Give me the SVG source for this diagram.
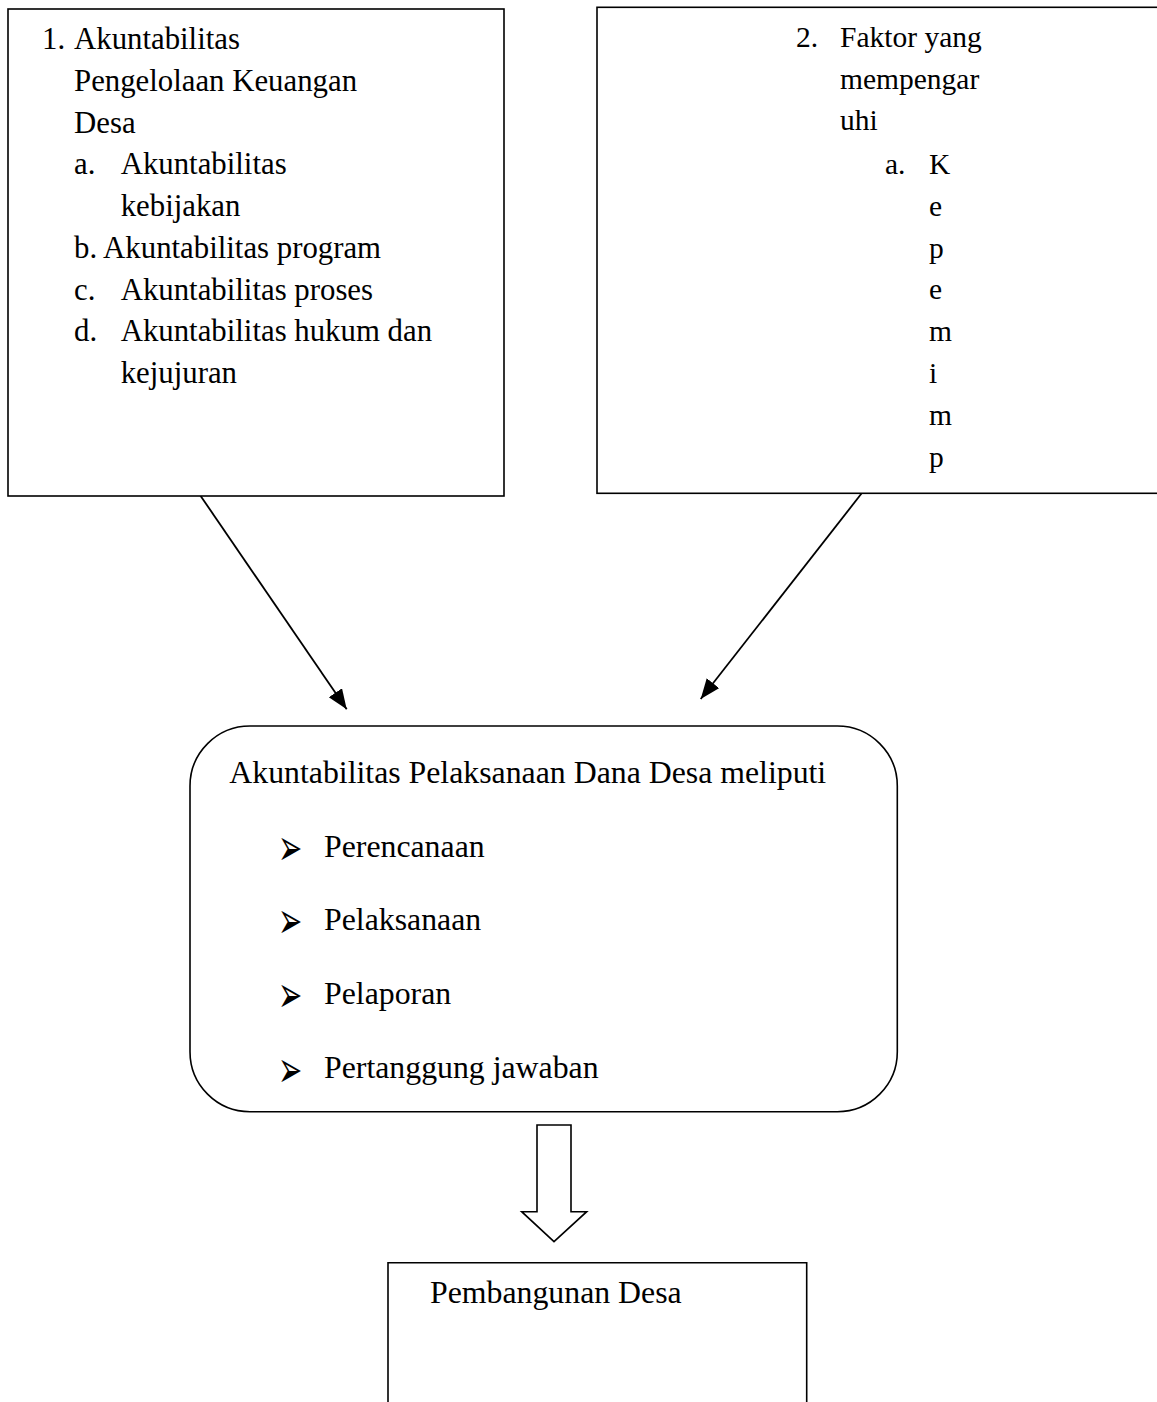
<svg xmlns="http://www.w3.org/2000/svg" width="1157" height="1402" viewBox="0 0 1157 1402">
<defs>
<style>
.t{font-family:"Liberation Serif","Times New Roman",serif;fill:#000}
.l{font-size:30.8px}
.r{font-size:29.5px}
.m{font-size:31.8px}
.box{fill:#fff;stroke:#000;stroke-width:1.6}
.con{stroke:#000;stroke-width:1.8;fill:none}
.bul{font-family:"DejaVu Sans",sans-serif;font-size:34px;fill:#000}
</style>
<marker id="ah" markerUnits="userSpaceOnUse" markerWidth="22" markerHeight="18" refX="20" refY="8" orient="auto">
<path d="M0,0 L20,8 L0,16 Z" fill="#000"/>
</marker>
</defs>
<rect width="1157" height="1402" fill="#fff"/>

<g id="connectors">
<line class="con" x1="200" y1="495" x2="346.7" y2="709.3" marker-end="url(#ah)"/>
<line class="con" x1="861.7" y1="493.3" x2="700.7" y2="699" marker-end="url(#ah)"/>
<polygon class="box" points="537,1125 571,1125 571,1211.7 586.7,1211.7 554,1241.7 521.7,1211.7 537,1211.7"/>
</g>

<g id="node-akuntabilitas">
<rect class="box" x="8" y="9" width="496" height="487"/>
<text class="t l" x="42" y="49.3">1.</text>
<text class="t l" x="74" y="49.3">Akuntabilitas</text>
<text class="t l" x="74" y="91">Pengelolaan Keuangan</text>
<text class="t l" x="74" y="132.7">Desa</text>
<text class="t l" x="74" y="174.4">a.</text>
<text class="t l" x="120.7" y="174.4">Akuntabilitas</text>
<text class="t l" x="120.7" y="216.1">kebijakan</text>
<text class="t l" x="74" y="257.8">b. Akuntabilitas program</text>
<text class="t l" x="74" y="299.5">c.</text>
<text class="t l" x="120.7" y="299.5">Akuntabilitas proses</text>
<text class="t l" x="74" y="341.2">d.</text>
<text class="t l" x="120.7" y="341.2">Akuntabilitas hukum dan</text>
<text class="t l" x="120.7" y="382.9">kejujuran</text>
</g>

<g id="node-faktor">
<rect class="box" x="597" y="7.3" width="570" height="486"/>
<text class="t r" x="796" y="46.7">2.</text>
<text class="t r" x="840" y="46.7">Faktor yang</text>
<text class="t r" x="840" y="88.5">mempengar</text>
<text class="t r" x="840" y="130.3">uhi</text>
<text class="t r" x="885" y="174">a.</text>
<text class="t r" x="929" y="174">K</text>
<text class="t r" x="929" y="215.8">e</text>
<text class="t r" x="929" y="257.6">p</text>
<text class="t r" x="929" y="299.4">e</text>
<text class="t r" x="929" y="341.2">m</text>
<text class="t r" x="929" y="383">i</text>
<text class="t r" x="929" y="424.8">m</text>
<text class="t r" x="929" y="466.6">p</text>
</g>

<g id="node-pelaksanaan">
<rect class="box" x="190" y="726" width="707.3" height="385.7" rx="60" ry="60"/>
<text class="t m" x="229.3" y="783.3">Akuntabilitas Pelaksanaan Dana Desa meliputi</text>
<text class="bul" transform="translate(278,865) scale(0.85,1.5)">➢</text>
<text class="t m" x="324" y="856.7">Perencanaan</text>
<text class="bul" transform="translate(278,938.3) scale(0.85,1.5)">➢</text>
<text class="t m" x="324" y="930">Pelaksanaan</text>
<text class="bul" transform="translate(278,1011.8) scale(0.85,1.5)">➢</text>
<text class="t m" x="324" y="1003.5">Pelaporan</text>
<text class="bul" transform="translate(278,1086.6) scale(0.85,1.5)">➢</text>
<text class="t m" x="324" y="1078.3">Pertanggung jawaban</text>
</g>

<g id="node-pembangunan">
<path class="box" d="M388,1410 L388,1262.7 L806.7,1262.7 L806.7,1410"/>
<text class="t m" x="430" y="1303">Pembangunan Desa</text>
</g>
</svg>
